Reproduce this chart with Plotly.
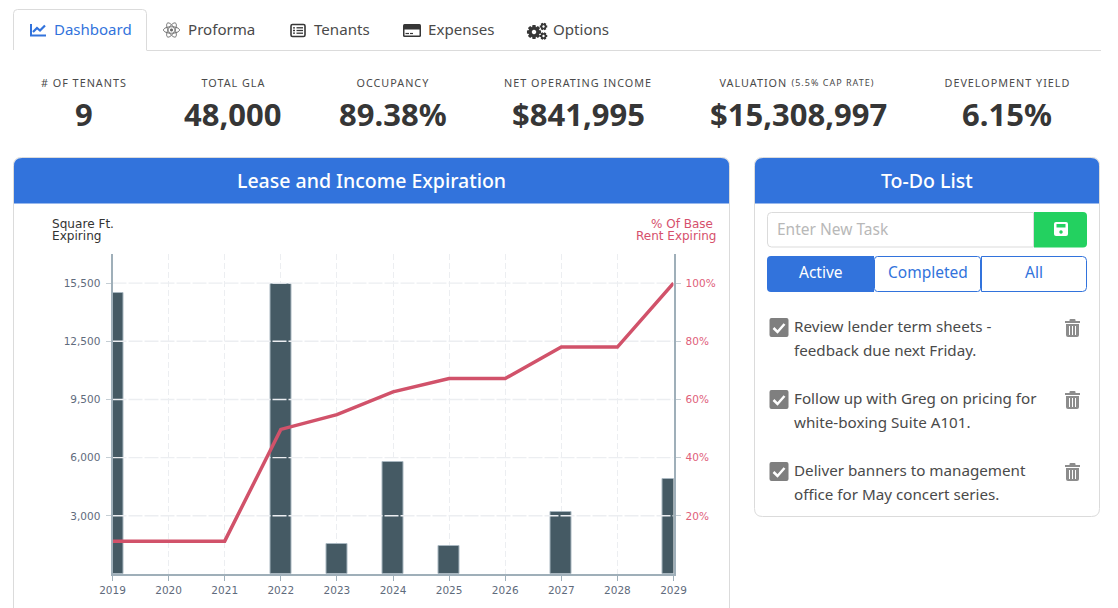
import numpy as np
import plotly.graph_objects as go

# chart values
years = [2019, 2020, 2021, 2022, 2023, 2024, 2025, 2026, 2027, 2028, 2029]
sqft_expiring = [14950, None, None, 15430, 1580, 5960, 1490, None, 3280, None, 5070]
pct_rent_expiring = [11.3, 11.3, 11.3, 49.7, 54.8, 62.6, 67.2, 67.2, 78, 78, 100]

sqft_ticks = [3100, 6200, 9300, 12400, 15500]
sqft_tick_labels = ["3,000", "6,000", "9,500", "12,500", "15,500"]
pct_ticks = [20, 40, 60, 80, 100]
pct_tick_labels = ["20%", "40%", "60%", "80%", "100%"]

# page text
stat_labels = ["# OF TENANTS", "TOTAL GLA", "OCCUPANCY", "NET OPERATING INCOME", "DEVELOPMENT YIELD"]
stat_label_x = [84, 233, 393, 578, 1007]
stat_values = ["9", "48,000", "89.38%", "$841,995", "$15,308,997", "6.15%"]
stat_value_x = [84, 233, 393, 578, 798, 1007]
tab_names = ["Proforma", "Tenants", "Expenses", "Options"]
tab_x = [188, 314, 428, 553]
todo_lines = [
    "Review lender term sheets -", "feedback due next Friday.",
    "Follow up with Greg on pricing for", "white-boxing Suite A101.",
    "Deliver banners to management", "office for May concert series.",
]
todo_y = [327, 351, 399, 423, 471, 495]

BLUE = "#3273dc"
GREEN = "#23d160"
BORDER = "#dbdbdb"
TEXT = "#4a4a4a"
DARK = "#363636"
GREY_ICON = "#7f7f7f"
BAR = "#455a64"
RED = "#d1526a"
FONT = "Noto Sans"
CHART_FONT = "DejaVu Sans"

W, H = 1118, 608
shapes = []
annotations = []


def add_text(x, y, text, size, color=TEXT, anchor="left", weight=400, family=FONT):
    # annotations sit about a pixel inside their anchor and Noto rides low
    if anchor == "left":
        x -= 1
    elif anchor == "right":
        x += 1
    if family == FONT:
        y -= 0.8
    annotations.append(dict(
        x=x, y=y, xref="x3", yref="y3", text=text, showarrow=False,
        xanchor=anchor, yanchor="middle", borderpad=0,
        font=dict(family=family, size=size, color=color, weight=weight),
    ))


def add_path(path, fill=None, line=None, width=1):
    shapes.append(dict(
        type="path", path=path, xref="x3", yref="y3", layer="below",
        fillcolor=fill or "rgba(0,0,0,0)",
        line=dict(color=line or "rgba(0,0,0,0)", width=width if line else 0),
    ))


def round_rect(x0, y0, x1, y1, tl=4, tr=4, br=4, bl=4):
    return (
        f"M{x0 + tl},{y0} L{x1 - tr},{y0} Q{x1},{y0} {x1},{y0 + tr} "
        f"L{x1},{y1 - br} Q{x1},{y1} {x1 - br},{y1} "
        f"L{x0 + bl},{y1} Q{x0},{y1} {x0},{y1 - bl} "
        f"L{x0},{y0 + tl} Q{x0},{y0} {x0 + tl},{y0} Z"
    )


def poly(points, close=True):
    p = "M" + " L".join(f"{x:.2f},{y:.2f}" for x, y in points)
    return p + (" Z" if close else "")


def ellipse(cx, cy, rx, ry, angle=0):
    t = np.linspace(0, 2 * np.pi, 41)[:-1]
    a = np.radians(angle)
    xs = cx + rx * np.cos(t) * np.cos(a) - ry * np.sin(t) * np.sin(a)
    ys = cy + rx * np.cos(t) * np.sin(a) + ry * np.sin(t) * np.cos(a)
    return poly(zip(xs, ys))


def gear(cx, cy, r_out, r_in, teeth, hole):
    pts = []
    for i in range(teeth):
        step = 2 * np.pi / teeth
        a = i * step
        for da, r in [(-0.3, r_in), (-0.17, r_out), (0.17, r_out), (0.3, r_in)]:
            pts.append((cx + r * np.cos(a + da * step * 1.6), cy + r * np.sin(a + da * step * 1.6)))
    add_path(poly(pts), fill=DARK)
    add_path(ellipse(cx, cy, hole, hole), fill="white")


def checkbox(y0):
    add_path(round_rect(769.5, y0, 788.5, y0 + 19, 2, 2, 2, 2), fill=GREY_ICON)
    add_path(poly([(773.5, y0 + 10), (777.5, y0 + 14), (784.5, y0 + 6)], close=False), line="white", width=2.5)


def trash(y0):
    add_path(poly([(1065, y0 + 3), (1080, y0 + 3)], close=False), line="#8c8c8c", width=2)
    add_path(round_rect(1069.5, y0, 1075.5, y0 + 3, 1, 1, 0, 0), fill="#8c8c8c")
    add_path(round_rect(1066, y0 + 5, 1079, y0 + 18, 0, 0, 2, 2), fill="#8c8c8c")
    for x in [1069.5, 1072.5, 1075.5]:
        add_path(poly([(x, y0 + 7), (x, y0 + 16)], close=False), line="white", width=1)


# tabs
add_path("M146.5,50.5 L1101,50.5", line=BORDER, width=1)
add_path(
    "M13.5,50 L13.5,13.5 Q13.5,9.5 17.5,9.5 L142.5,9.5 Q146.5,9.5 146.5,13.5 L146.5,50",
    line=BORDER, width=1,
)
add_text(54, 30, "Dashboard", 15, BLUE)
for name, x in zip(tab_names, tab_x):
    add_text(x, 30, name, 15.1)

# chart-line icon
add_path(poly([(31, 24), (31, 35.5), (46, 35.5)], close=False), line=BLUE, width=2)
add_path(poly([(33, 32), (37, 28), (40, 30.5), (45, 25.5)], close=False), line=BLUE, width=2.2)
# atom icon
for angle in [0, 60, 120]:
    add_path(ellipse(171.5, 30, 8, 3.2, angle), line="#6b6b6b", width=1)
add_path(ellipse(171.5, 30, 1.5, 1.5), fill="#6b6b6b")
# list icon
add_path(round_rect(291, 24.5, 305, 36.5, 1.5, 1.5, 1.5, 1.5), line=DARK, width=1.6)
for y in [27.8, 30.5, 33.2]:
    add_path(poly([(293, y), (295, y)], close=False), line=DARK, width=1.3)
    add_path(poly([(296.5, y), (303, y)], close=False), line=DARK, width=1.3)
# card icon
add_path(round_rect(403, 24, 421, 37, 1.5, 1.5, 1.5, 1.5), fill=DARK)
add_path("M404.5,29.5 L419.5,29.5 L419.5,35.5 L404.5,35.5 Z", fill="white")
add_path(poly([(405.5, 33.5), (409, 33.5)], close=False), line=DARK, width=1.2)
add_path(poly([(410, 33.5), (413, 33.5)], close=False), line=DARK, width=1.2)
# cogs icon
gear(534, 32, 7.2, 5.2, 8, 2.2)
gear(543.5, 26.5, 3.9, 2.8, 6, 1.2)
gear(543.5, 36, 3.9, 2.8, 6, 1.2)

# stats
for label, x in zip(stat_labels, stat_label_x):
    add_text(x, 83, label, 10.8, anchor="center")
add_text(753, 83, "VALUATION", 10.8, anchor="center")
add_text(833, 83, "(5.5% CAP RATE)", 9, anchor="center")
for value, x in zip(stat_values, stat_value_x):
    add_text(x, 115, value, 31, DARK, "center", 700)

# lease card
add_path(
    "M13.5,608 L13.5,165.5 Q13.5,157.5 21.5,157.5 L721.5,157.5 Q729.5,157.5 729.5,165.5 L729.5,608",
    line=BORDER, width=1,
)
add_path(round_rect(14, 158, 729, 203.5, 8, 8, 0, 0), fill=BLUE)
add_text(371, 181, "Lease and Income Expiration", 19.5, "white", "center", 500)

add_text(51.5, 224, "Square Ft.", 12.1, "#333333", family=CHART_FONT)
add_text(51.5, 236, "Expiring", 12.1, "#333333", family=CHART_FONT)
add_text(713, 224, "% Of Base", 12, "#d6506c", "right", family=CHART_FONT)
add_text(716, 236, "Rent Expiring", 12, "#d6506c", "right", family=CHART_FONT)

# to-do card
add_path(round_rect(754.5, 157.5, 1099.5, 516.5, 8, 8, 8, 8), line=BORDER, width=1)
add_path(round_rect(755, 158, 1099, 203.5, 8, 8, 0, 0), fill=BLUE)
add_text(927, 181, "To-Do List", 19.5, "white", "center", 500)

add_path(round_rect(767.5, 212.5, 1033.5, 247, 4, 0, 0, 4), line=BORDER, width=1)
add_text(777, 229.5, "Enter New Task", 15.5, "#b8b8b8")
add_path(round_rect(1034, 212, 1087, 247.5, 0, 4, 4, 0), fill=GREEN)
add_path(round_rect(1054, 222, 1068, 236, 2, 2, 2, 2), fill="white")
add_path("M1056.5,224 L1065.5,224 L1065.5,227.5 L1056.5,227.5 Z", fill=GREEN)
add_path(ellipse(1061, 232, 1.7, 1.7), fill=GREEN)

add_path(round_rect(767, 256, 874, 292, 4, 0, 0, 4), fill=BLUE)
add_path(round_rect(874.5, 256.5, 980.5, 291.5, 3, 3, 3, 3), fill="white", line=BLUE)
add_path(round_rect(981.5, 256.5, 1086.5, 291.5, 0, 4, 4, 0), fill="white", line=BLUE)
add_text(820.5, 273, "Active", 15.5, "white", "center")
add_text(927.5, 273, "Completed", 15.5, BLUE, "center")
add_text(1034, 273, "All", 15.5, BLUE, "center")

for line_text, y in zip(todo_lines, todo_y):
    add_text(794, y, line_text, 15.2)
for y in [318, 390, 462]:
    checkbox(y)
    trash(y + 1)

# chart itself
fig = go.Figure()
fig.add_bar(
    x=years, y=sqft_expiring, xaxis="x", yaxis="y", width=0.38,
    marker=dict(color=BAR, line=dict(color="#a9b7c0", width=1)),
)
grid_x, grid_y = [], []
for tick in sqft_ticks:
    grid_x += [years[0], years[-1], None]
    grid_y += [tick, tick, None]
fig.add_scatter(
    x=grid_x, y=grid_y, mode="lines", xaxis="x", yaxis="y",
    line=dict(color="#eceef1", width=1.4, dash="14px,2px"), hoverinfo="skip",
)
fig.add_scatter(
    x=years, y=pct_rent_expiring, mode="lines", xaxis="x", yaxis="y2",
    line=dict(color=RED, width=3.5),
)
# invisible trace that keeps the page-sized pixel axes alive
fig.add_scatter(x=[None], y=[None], xaxis="x3", yaxis="y3", hoverinfo="skip")

axis_color = "#9fafb9"
tick_font = dict(family=CHART_FONT, size=10.5, color="#5f6b7c")
fig.update_layout(
    template="none",
    width=W, height=H,
    margin=dict(l=0, r=0, t=0, b=0),
    paper_bgcolor="white", plot_bgcolor="rgba(0,0,0,0)",
    showlegend=False, bargap=0,
    shapes=shapes, annotations=annotations,
    xaxis=dict(
        domain=[112.5 / W, 673.5 / W], range=[years[0], years[-1]], anchor="y",
        tickmode="array", tickvals=years, ticktext=[str(y) for y in years],
        ticks="outside", ticklen=5, tickcolor=axis_color, tickfont=tick_font,
        showline=True, linecolor=axis_color, linewidth=2,
        showgrid=True, gridcolor="#eceef1", griddash="6px,3px", zeroline=False,
    ),
    yaxis=dict(
        domain=[1 - 574 / H, 1 - 254 / H], range=[0, 17050], anchor="x",
        tickmode="array", tickvals=sqft_ticks, ticktext=sqft_tick_labels,
        ticks="outside", ticklen=5, tickcolor="#c5ced4", tickfont=tick_font,
        ticklabelstandoff=3,
        showline=True, linecolor=axis_color, linewidth=2,
        showgrid=False, zeroline=False,
    ),
    yaxis2=dict(
        domain=[1 - 574 / H, 1 - 254 / H], range=[0, 110], anchor="x",
        overlaying="y", side="right", tickmode="array", tickvals=pct_ticks,
        ticktext=pct_tick_labels, ticks="outside", ticklen=5, tickcolor="#c5ced4",
        tickfont=dict(family=CHART_FONT, size=10.5, color="#e0607a"),
        ticklabelstandoff=3,
        showline=True, linecolor=axis_color, linewidth=2,
        showgrid=False, zeroline=False,
    ),
    xaxis3=dict(domain=[0, 1], range=[0, W], visible=False, anchor="y3", fixedrange=True),
    yaxis3=dict(domain=[0, 1], range=[H, 0], visible=False, anchor="x3", fixedrange=True),
)

# the small caps labels are letter-spaced in the original page
page_script = """
document.body.style.margin='0';
document.body.style.overflow='hidden';
document.querySelectorAll('.annotation-text').forEach(function(t){
  var s=t.textContent;
  if(/[A-Z]{2}/.test(s) && s===s.toUpperCase()){t.style.letterSpacing='1px';}
});
"""
fig.write_html("out.html", post_script=page_script, config=dict(displayModeBar=False))
